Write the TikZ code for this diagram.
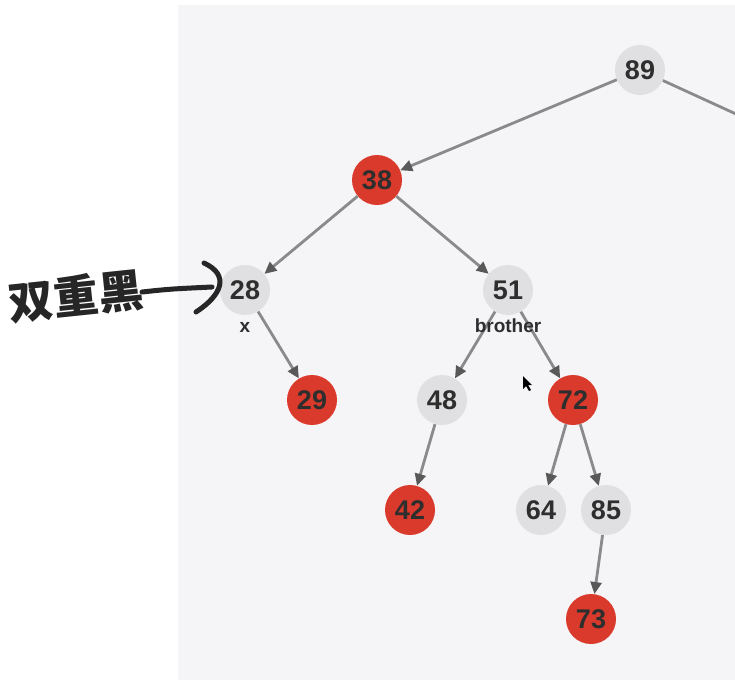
\documentclass[tikz,border=0pt]{standalone}
\usepackage{fontspec}
\setmainfont{Liberation Sans}
\newfontfamily\cjk{Noto Sans CJK SC}
\usetikzlibrary{arrows.meta}
\definecolor{panel}{HTML}{F5F4F7}
\definecolor{nodegray}{HTML}{E0E0E2}
\definecolor{nodered}{HTML}{D93A2B}
\definecolor{edgegray}{HTML}{8A8A8A}
\definecolor{txt}{HTML}{2E2E2E}
\tikzset{
  tn/.style={circle, minimum size=50pt, inner sep=0pt, font=\fontsize{27}{27}\selectfont\bfseries, text=txt},
  gn/.style={tn, fill=nodegray},
  rn/.style={tn, fill=nodered},
  edge/.style={draw=edgegray, line width=2.8pt, -{Triangle[length=12pt,width=11pt,fill=black!65,color=black!65]}},
  lbl/.style={font=\fontsize{19}{19}\selectfont\bfseries, text=txt},
  hand/.style={draw=black!85, line width=5pt, line cap=round, line join=round}
}
\begin{document}
\begin{tikzpicture}[x=1pt,y=-1pt]
\useasboundingbox (0,0) rectangle (735,686);
\fill[white] (0,0) rectangle (735,686);
\fill[panel] (178,5) rectangle (735,680);
\begin{scope}
\clip (0,0) rectangle (735,686);
\node[gn] (n89) at (640,70) {89};
\node[rn] (n38) at (377,180) {38};
\node[gn] (n28) at (245,290) {28};
\node[gn] (n51) at (508,290) {51};
\node[rn] (n29) at (312,400) {29};
\node[gn] (n48) at (442,400) {48};
\node[rn] (n72) at (573,400) {72};
\node[rn] (n42) at (410,510) {42};
\node[gn] (n64) at (541,510) {64};
\node[gn] (n85) at (606,510) {85};
\node[rn] (n73) at (591,619) {73};
\coordinate (offr) at (760,125);
\draw[draw=edgegray, line width=2.8pt] (n89) -- (offr);
\draw[edge] (n89) -- (n38);
\draw[edge] (n38) -- (n28);
\draw[edge] (n38) -- (n51);
\draw[edge] (n28) -- (n29);
\draw[edge] (n51) -- (n48);
\draw[edge] (n51) -- (n72);
\draw[edge] (n48) -- (n42);
\draw[edge] (n72) -- (n64);
\draw[edge] (n72) -- (n85);
\draw[edge] (n85) -- (n73);
\end{scope}
\node[lbl] (lx) at (245,327) {x};
\node[lbl] (lb) at (508,326) {brother};
% handwritten note
\node[text=black!85, font=\fontsize{45}{45}\cjk\bfseries, rotate=6, inner sep=0pt] (note) at (76,296) {双重黑};
\coordinate (h1) at (142,292);
\coordinate (h2) at (212,287);
\coordinate (h3) at (204,263);
\coordinate (h4) at (196,312);
\draw[hand] (h1) .. controls (170,289) .. (h2);
\draw[hand] (h3) .. controls (230,275) and (222,295) .. (h4);
% cursor
\fill[black] (523,376) -- (523,389) -- (526,386) -- (529,391) -- (531,390) -- (528,385) -- (532,385) -- cycle;
\end{tikzpicture}
\end{document}
